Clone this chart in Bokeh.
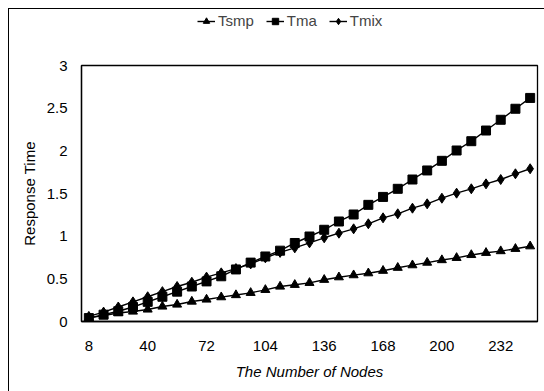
from bokeh.plotting import figure
from bokeh.layouts import column
from bokeh.models import Range1d, FixedTicker, NumeralTickFormatter, Legend, LegendItem
from bokeh.embed import file_html
from bokeh.resources import INLINE

# ---- data ----
nodes = list(range(8, 249, 8))
tsmp = [0.043, 0.07, 0.10, 0.117, 0.141, 0.176, 0.199, 0.234, 0.258, 0.285,
        0.31, 0.336, 0.371, 0.41, 0.43, 0.453, 0.489, 0.519, 0.543, 0.566,
        0.595, 0.63, 0.66, 0.69, 0.72, 0.746, 0.78, 0.805, 0.825, 0.852, 0.882]
tma = [0.04, 0.08, 0.12, 0.17, 0.23, 0.29, 0.35, 0.41, 0.47, 0.53,
       0.61, 0.69, 0.762, 0.83, 0.92, 0.996, 1.075, 1.172, 1.254, 1.367,
       1.46, 1.555, 1.664, 1.77, 1.883, 2.004, 2.113, 2.238, 2.364, 2.493, 2.62]
tmix = [0.06, 0.11, 0.17, 0.23, 0.29, 0.35, 0.41, 0.46, 0.52, 0.57,
        0.62, 0.675, 0.746, 0.81, 0.863, 0.922, 0.981, 1.035, 1.086, 1.145,
        1.215, 1.262, 1.328, 1.379, 1.445, 1.504, 1.555, 1.613, 1.664, 1.731, 1.79]
x_ticks = [8, 40, 72, 104, 136, 168, 200, 232]
y_ticks = [0, 0.5, 1, 1.5, 2, 2.5, 3]
series_names = ["Tsmp", "Tma", "Tmix"]
markers = ["triangle", "square", "diamond"]
marker_sizes = [9, 9, 10]
series_values = [tsmp, tma, tmix]

FONT = "Liberation Sans"

# ---- legend strip (top); its frame is aligned with the main chart's frame ----
top = figure(width=544, height=45, output_backend="svg", toolbar_location=None,
             x_range=Range1d(0, 1), y_range=Range1d(0, 1),
             min_border_left=81, min_border_right=7, min_border_top=0, min_border_bottom=0)
top.axis.visible = False
top.grid.visible = False
top.outline_line_color = None
top.background_fill_alpha = 0
top.border_fill_alpha = 0

items = []
for name, vals, mk, ms in zip(series_names, series_values, markers, marker_sizes):
    # same data as the chart; it lies outside this strip's ranges, only the legend shows
    lr = top.line(nodes, vals, line_color="black", line_width=1.4)
    sr = top.scatter(nodes, vals, marker=mk, size=ms, fill_color="black", line_color="black")
    items.append(LegendItem(label=name, renderers=[lr, sr]))

legend = Legend(items=items, orientation="horizontal", location=(116, 16),
                border_line_color=None, background_fill_alpha=0,
                label_text_font=FONT, label_text_font_size="15px",
                glyph_width=18, glyph_height=16, label_standoff=3, spacing=12,
                padding=0, margin=0, label_height=16)
top.add_layout(legend, "center")

# ---- main chart ----
p = figure(width=544, height=346, output_backend="svg", toolbar_location=None,
           x_range=Range1d(4, 252), y_range=Range1d(0, 3),
           min_border_left=81, min_border_right=7, min_border_top=20, min_border_bottom=70)

p.xgrid.visible = False
p.ygrid.visible = False
p.outline_line_color = "black"
p.outline_line_width = 1.3
p.background_fill_color = "white"
p.border_fill_alpha = 0

for ax in (p.xaxis[0], p.yaxis[0]):
    ax.axis_line_color = "black"
    ax.axis_line_width = 1.3
    ax.major_tick_line_color = None
    ax.minor_tick_line_color = None
    ax.major_tick_out = 0
    ax.major_tick_in = 0
    ax.major_label_text_font = FONT
    ax.major_label_text_font_size = "15px"
    ax.major_label_text_color = "black"
    ax.axis_label_text_font = FONT
    ax.axis_label_text_font_size = "15px"
    ax.axis_label_text_color = "black"

p.xaxis[0].ticker = FixedTicker(ticks=x_ticks)
p.yaxis[0].ticker = FixedTicker(ticks=y_ticks)
p.yaxis[0].formatter = NumeralTickFormatter(format="0.[0]")
p.xaxis[0].major_label_standoff = 19
p.yaxis[0].major_label_standoff = 14
p.xaxis[0].axis_label = "The Number of Nodes"
p.xaxis[0].axis_label_text_font_style = "italic"
p.xaxis[0].axis_label_standoff = 9
p.yaxis[0].axis_label = "Response Time"
p.yaxis[0].axis_label_text_font_style = "normal"
p.yaxis[0].axis_label_standoff = 6

for vals, mk, ms in zip(series_values, markers, marker_sizes):
    p.line(nodes, vals, line_color="black", line_width=1.4)
    p.scatter(nodes, vals, marker=mk, size=ms, fill_color="black", line_color="black")

layout = column(top, p, spacing=0)
layout.styles = {"box-shadow": "inset 8px 8px 0 0 #fff, inset 9px 9px 0 0 #000"}

open("out.html", "w").write(file_html(layout, INLINE))
